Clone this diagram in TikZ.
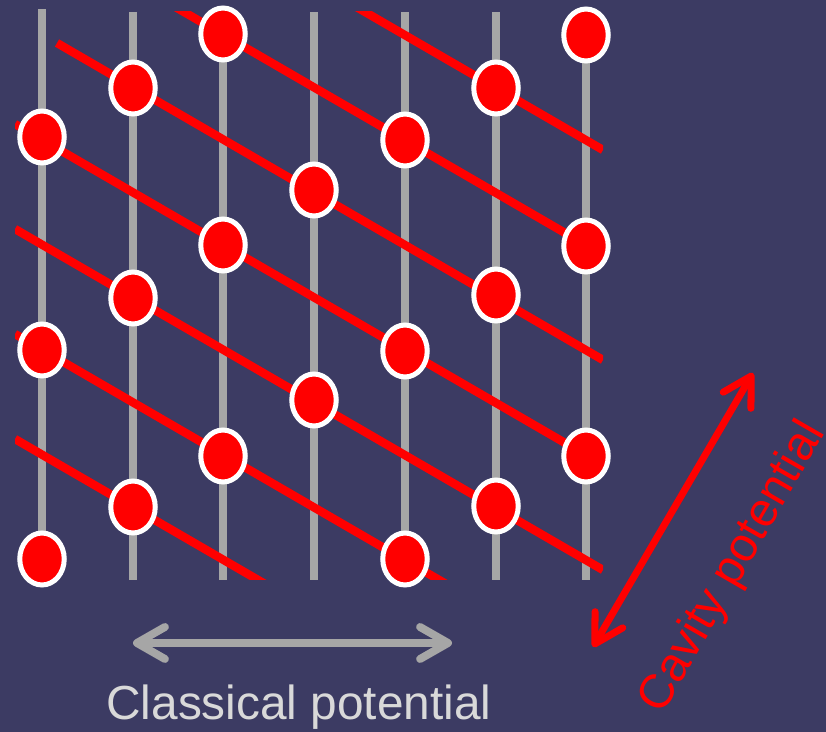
\documentclass[tikz,border=0pt]{standalone}
\usepackage{fontspec}
\setmainfont{Liberation Sans}
\usepackage{xcolor}
\usepackage{tikz}
\usetikzlibrary{arrows.meta,shapes.geometric}
\definecolor{LATnavy}{HTML}{3C3B63}
\definecolor{LATred}{HTML}{FF0000}
\definecolor{LATgrey}{HTML}{A6A6A6}
\definecolor{LATlabel}{HTML}{D9D9D9}
\newcommand{\potfont}{\fontsize{27.2pt}{32pt}\selectfont}
\tikzset{
  rail/.style={draw=LATgrey, line width=4.4pt},
  cavline/.style={draw=LATred, line width=4.8pt},
  atom/.style={ellipse, draw=white, fill=LATred, line width=2.85pt, minimum width=0.89cm, minimum height=1.04cm, inner sep=0pt},
  potarr/.style={{Straight Barb[length=0.56cm, width=0.64cm, round]}-{Straight Barb[length=0.56cm, width=0.64cm, round]}},
  potlabel/.style={font=\potfont, inner sep=0pt}
}

\begin{document}
\begin{tikzpicture}[x=0.02cm, y=-0.02cm]
\useasboundingbox (0,0) rectangle (826,732);
\fill[LATnavy] (0,0) rectangle (826,732);
% classical potential: vertical rails
\draw[rail] (42,9) -- (42,580);
\draw[rail] (133,12) -- (133,580);
\draw[rail] (223,12) -- (223,580);
\draw[rail] (314,12) -- (314,580);
\draw[rail] (405,12) -- (405,580);
\draw[rail] (496,12) -- (496,580);
\draw[rail] (586,12) -- (586,580);
% cavity potential: tilted wave fronts
\begin{scope}
\clip (15,12) rectangle (603,580);
\draw[cavline] (15,-191) -- (603,150);
\draw[cavline] (15,-86) -- (603,255);
\draw[cavline] (57,43) -- (603,360);
\draw[cavline] (15,124) -- (603,465);
\draw[cavline] (15,229) -- (603,570);
\draw[cavline] (15,334) -- (603,675);
\draw[cavline] (15,439) -- (603,780);
\end{scope}
% atoms
\node[atom] (c0a) at (42,137) {};
\node[atom] (c0b) at (42,350) {};
\node[atom] (c0c) at (42,559) {};
\node[atom] (c1a) at (133,88) {};
\node[atom] (c1b) at (133,298) {};
\node[atom] (c1c) at (133,507) {};
\node[atom] (c2a) at (223,34) {};
\node[atom] (c2b) at (223,245) {};
\node[atom] (c2c) at (223,456) {};
\node[atom] (c3a) at (314,190) {};
\node[atom] (c3b) at (314,400) {};
\node[atom] (c4a) at (405,140) {};
\node[atom] (c4b) at (405,351) {};
\node[atom] (c4c) at (405,559) {};
\node[atom] (c5a) at (496,88) {};
\node[atom] (c5b) at (496,295) {};
\node[atom] (c5c) at (496,506) {};
\node[atom] (c6a) at (586,35) {};
\node[atom] (c6b) at (586,246) {};
\node[atom] (c6c) at (586,456) {};
% arrows and labels
\coordinate (clLeft) at (133,643);
\coordinate (clRight) at (452,643);
\coordinate (cvLow) at (593,647);
\coordinate (cvHigh) at (753,373);
\draw[potarr, draw=LATgrey, line width=4.5pt] (clLeft) -- (clRight);
\node[potlabel, text=LATlabel, anchor=base] (clText) at (299,720) {Classical potential};
\draw[potarr, draw=LATred, line width=4pt] (cvLow) -- (cvHigh);
\node[potlabel, text=LATred, rotate=60] (cvText) at (733,568) {Cavity potential};
\end{tikzpicture}
\end{document}
